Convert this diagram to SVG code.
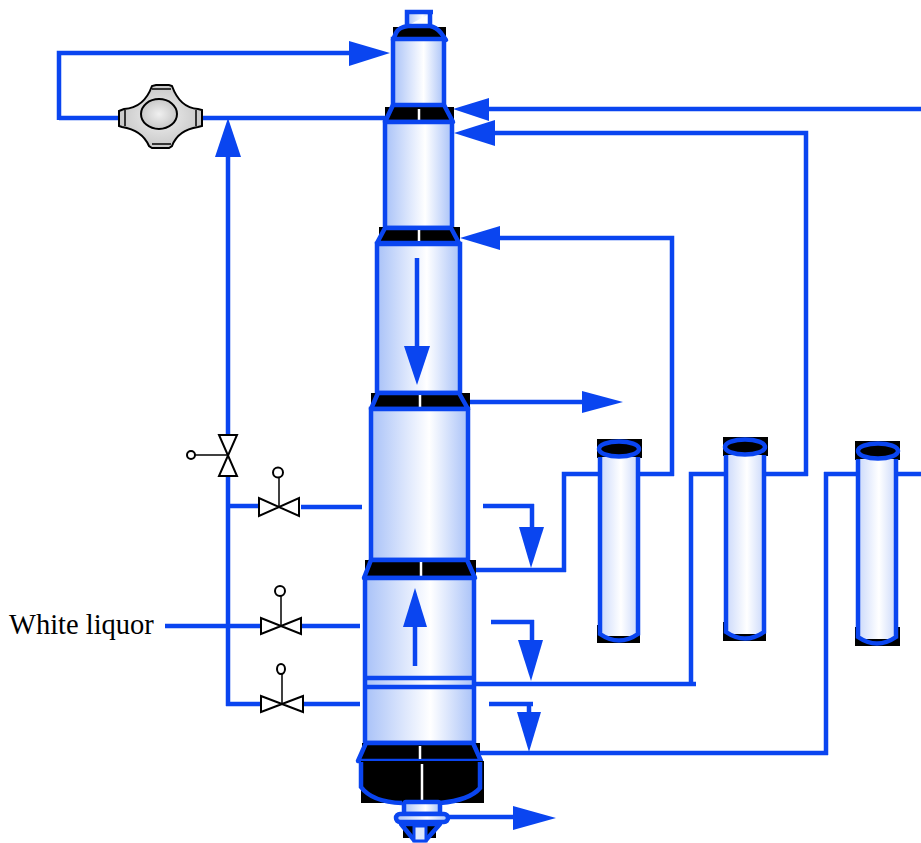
<svg xmlns="http://www.w3.org/2000/svg" width="921" height="843" viewBox="0 0 921 843">
<style>
.p{fill:none;stroke:#0a45f0;stroke-width:4.500}
.h{fill:#0a45f0;stroke:none}
.b{fill:url(#g);stroke:#0a45f0;stroke-width:4.500}
.e{fill:url(#e);stroke:none}
.k{fill:#000;stroke:none}
.t{fill:#000;stroke:#0a45f0;stroke-width:4.500;stroke-linejoin:round}
.w{stroke:#fff;stroke-width:2.500;fill:none}
.v{fill:#fff;stroke:#000;stroke-width:2}
.n{fill:none;stroke:#000;stroke-width:1.500}
text{font-family:"Liberation Serif","Times New Roman",serif;font-size:28.500px;fill:#000}
</style>
<defs>
<linearGradient id="g"><stop offset="0" stop-color="#a9c2f8"/><stop offset=".6" stop-color="#fff"/><stop offset="1" stop-color="#a9c2f8"/></linearGradient>
<linearGradient id="e"><stop offset="0" stop-color="#cbd9fb"/><stop offset=".55" stop-color="#fff"/><stop offset="1" stop-color="#cbd9fb"/></linearGradient>
<radialGradient id="c"><stop offset="0" stop-color="#f0f0f0"/><stop offset="1" stop-color="#c8c8c8"/></radialGradient>
</defs>

<g id="connectors">
<path class="p" d="M59 120V53H355"/><path class="h" d="M349 41L390 53L349 66Z"/>
<path class="p" d="M59 118H122M200 118H388"/>
<path class="p" d="M921 109H485"/><path class="h" d="M453 109L489 98V121Z"/>
<path class="p" d="M806 476V133H490"/><path class="h" d="M454 133L495 120V146Z"/>
<path class="p" d="M672 476V238H495"/><path class="h" d="M460 238L500 226V250Z"/>
<path class="p" d="M468 402H590"/><path class="h" d="M582 391L623 402L582 413Z"/>
<path class="p" d="M228 435V150"/><path class="h" d="M228 118L241 157H215Z"/>
<path class="p" d="M228 476V706M226 704H263M228 506H261M301 507H362M165 626H262M300 626H360M301 704H360"/>
<path class="p" d="M475 570H566M564 572V474H600M638 474H674"/>
<path class="p" d="M483 506H534M532 504V530"/><path class="h" d="M519 527H544L531 568Z"/>
<path class="p" d="M475 684H696M691 686V474H727M763 474H808"/>
<path class="p" d="M491 622H534M532 620V645"/><path class="h" d="M518 640H543L531 681Z"/>
<path class="p" d="M480 753H828M826 755V472M824 474H858M895 474H921"/>
<path class="p" d="M489 704H533M529 702V715"/><path class="h" d="M517 712H541L529 752Z"/>
<path class="p" d="M448 817H518"/><path class="h" d="M513 806L556 818L513 830Z"/>
</g>

<g id="column">
<path class="b" d="M407 26V12H433M430 12V26"/>
<path class="k" d="M393 27H446V40H393Z"/>
<path class="t" d="M393 40L396 33Q399 27 408 26H430Q436 27 441 33L446 40Z"/>
<rect class="b" x="393" y="39" width="51" height="67"/>
<path class="k" d="M385 107H454V123H385Z"/>
<path class="t" d="M393 105H444L453 122H385Z"/>
<path class="w" d="M419 109V120"/>
<rect class="b" x="385" y="122" width="67" height="106"/>
<path class="k" d="M379 227H460V243H379Z"/>
<path class="t" d="M385 228H451L459 243H377Z"/>
<path class="w" d="M419 230V241"/>
<rect class="b" x="377" y="244" width="83" height="149"/>
<path class="k" d="M371 393H470V410H371Z"/>
<path class="t" d="M378 393H459L468 409H371Z"/>
<path class="w" d="M420 395V407"/>
<rect class="b" x="371" y="409" width="97" height="151"/>
<path class="k" d="M365 560H476V577H365Z"/>
<path class="t" d="M371 560H467L475 578H364Z"/>
<path class="w" d="M421 562V576"/>
<rect class="b" x="365" y="578" width="109" height="165"/>
<path class="p" d="M365 678H476M365 687H476"/>
<path class="k" d="M362 743H480V761H362Z"/>
<path class="t" d="M366 743H473L481 761H358Z"/>
<path class="w" d="M420 746V759"/>
<path class="k" d="M361 761H484V803H361Z"/>
<path class="p" d="M361 762V787Q372 802 402 803M480 762V788Q470 800 440 803"/>
<path class="w" d="M422 764V800"/>
<path class="p" d="M417 258V350"/><path class="h" d="M404 346H430L417 385Z"/>
<path class="p" d="M415 666V625"/><path class="h" d="M403 627H427L415 588Z"/>
</g>

<g id="bottom-nozzle">
<path class="k" d="M403 828H436V838H403Z"/>
<path class="t" d="M401 824L414 840H426L440 824Z"/>
<rect x="414" y="826" width="12" height="15" fill="#dfe8fd" stroke="#0a45f0" stroke-width="3"/>
<rect class="b" x="404" y="802" width="36" height="12" rx="2"/>
<rect class="b" x="396" y="814" width="52" height="8" rx="4"/>
</g>

<g id="exchanger-1">
<path class="k" d="M597 439H642V458H597ZM597 625H640V643H597Z"/>
<path d="M600 457H638V636H600Z" class="e"/>
<path class="p" d="M600 457V634Q619 647 638 634V457"/>
<ellipse class="p" cx="619" cy="449" rx="20" ry="7.500"/>
</g>
<g id="exchanger-2">
<path class="k" d="M723 437H768V456H723ZM723 622H766V641H723Z"/>
<path d="M726 455H764V634H726Z" class="e"/>
<path class="p" d="M726 455V632Q745 645 764 632V455"/>
<ellipse class="p" cx="745" cy="447" rx="20" ry="7.500"/>
</g>
<g id="exchanger-3">
<path class="k" d="M855 441H900V460H855ZM855 627H900V646H855Z"/>
<path d="M858 459H896V639H858Z" class="e"/>
<path class="p" d="M858 459V637Q877 650 896 637V459"/>
<ellipse class="p" cx="878" cy="451" rx="20" ry="7.500"/>
</g>

<g id="compressor">
<path d="M119 111L124 109Q144 108 152 86L156 85H169L172 86Q180 108 198 109L202 110V126L198 127Q178 130 172 146L169 148H152L149 146Q142 130 122 127L119 126Z" fill="url(#c)" stroke="#000" stroke-width="2"/>
<path class="n" d="M125 110V126M196 110V126M152 89H171M152 144H171"/>
<ellipse cx="159" cy="114" rx="18" ry="15" fill="url(#c)" stroke="#000" stroke-width="2"/>
</g>

<g id="valve-vertical">
<path class="v" d="M219 435H237L219 476H237Z"/>
<path class="n" d="M195 455H228"/><circle class="v" cx="191" cy="455" r="4"/>
</g>
<g id="valve-1">
<path class="v" d="M259 498V516L299 498V516Z"/>
<path class="n" d="M279 477V507"/><circle class="v" cx="278" cy="472.500" r="5"/>
</g>
<g id="valve-2">
<path class="v" d="M261 618V634L301 618V634Z"/>
<path class="n" d="M281 596V626"/><circle class="v" cx="280" cy="591" r="5"/>
</g>
<g id="valve-3">
<path class="v" d="M261 696V712L303 696V712Z"/>
<path class="n" d="M282 674V704"/><ellipse class="v" cx="281" cy="669" rx="4" ry="5"/>
</g>

<text id="label-white-liquor" x="9" y="634">White liquor</text>
</svg>
